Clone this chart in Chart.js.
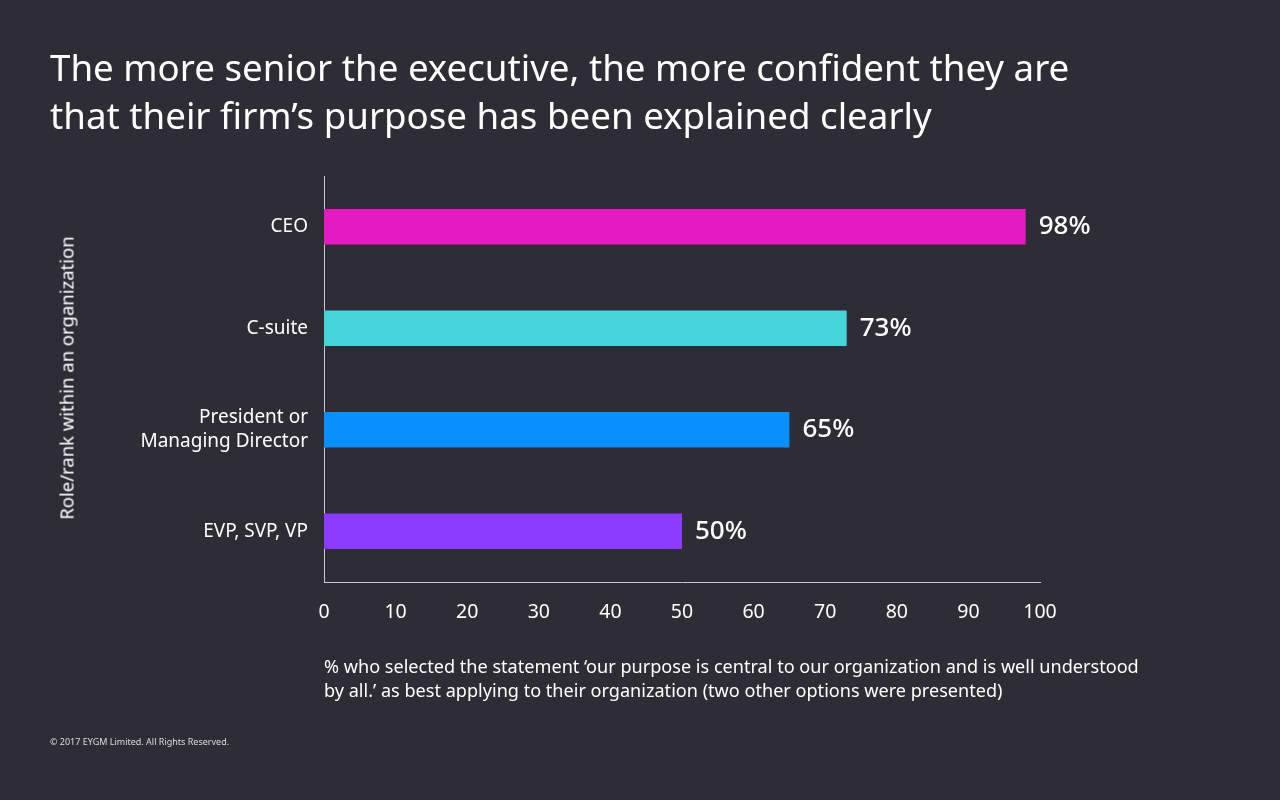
<!DOCTYPE html>
<html>
<head>
<meta charset="utf-8">
<script src="https://cdn.jsdelivr.net/npm/chart.js@4"></script>
<style>
  html, body { margin: 0; padding: 0; background: #2e2d36; }
  body { width: 1280px; height: 800px; position: relative; overflow: hidden; font-family: "Noto Sans", sans-serif; color: #fff; }
  #wrap { position: absolute; left: 0; top: 0; width: 1280px; height: 800px; }
  .title { position: absolute; left: 50px; top: 43px; font-size: 36.7px; line-height: 48px; font-weight: 400; }
  .ytitle { position: absolute; left: 66px; top: 378px; font-size: 18.5px; transform: translate(-50%, -50%) rotate(-90deg); white-space: nowrap; }
  .note { position: absolute; left: 324px; top: 654px; font-size: 18.1px; line-height: 24px; }
  .copy { position: absolute; left: 50px; top: 735px; font-size: 9px; color: #ddd; }
</style>
</head>
<body>
<div id="wrap"><canvas id="chart"></canvas></div>
<div class="title">The more senior the executive, the more confident they are<br>that their firm’s purpose has been explained clearly</div>
<div class="ytitle">Role/rank within an organization</div>
<div class="note">% who selected the statement ‘our purpose is central to our organization and is well understood<br>by all.’ as best applying to their organization (two other options were presented)</div>
<div class="copy">© 2017 EYGM Limited. All Rights Reserved.</div>
<script>
const ctx = document.getElementById('chart').getContext('2d');

// data
const roles = [['CEO'], ['C-suite'], ['President or', 'Managing Director'], ['EVP, SVP, VP']];
const shares = [98, 73, 65, 50];
const barColors = ['#e41bc0', '#45d4da', '#0a8ffe', '#8a3bff'];
const xTicks = [0, 10, 20, 30, 40, 50, 60, 70, 80, 90, 100];

// percent labels at the end of each bar
const valueLabels = {
    id: 'valueLabels',
    afterDatasetsDraw(chart) {
        const c = chart.ctx;
        const meta = chart.getDatasetMeta(0);
        c.save();
        c.fillStyle = '#ffffff';
        c.font = '500 26px "Noto Sans"';
        c.textBaseline = 'middle';
        meta.data.forEach((bar, i) => {
            c.fillText(shares[i] + '%', bar.x + 13, bar.y);
        });
        c.restore();
    }
};

const myChart = new Chart(ctx, {
    type: 'bar',
    data: {
        labels: roles,
        datasets: [{
            data: shares,
            backgroundColor: barColors,
            borderWidth: 0,
            barPercentage: 0.7,
            categoryPercentage: 0.5,
        }],
    },
    options: {
        indexAxis: 'y',
        responsive: true,
        maintainAspectRatio: false,
        animation: false,
        layout: { padding: { left: 50, top: 176, right: 240, bottom: 168 } },
        plugins: { legend: { display: false }, tooltip: { enabled: false } },
        scales: {
            x: {
                min: 0,
                max: 100,
                afterFit: (s) => { s.height = 50; },
                afterBuildTicks: (s) => { s.ticks = xTicks.map(v => ({ value: v })); },
                grid: { display: false, drawTicks: false },
                border: { display: true, color: '#c9c9cf', width: 1 },
                ticks: { color: '#ffffff', font: { family: 'Noto Sans', size: 19.5 }, padding: 19 },
            },
            y: {
                afterFit: (s) => { s.width = 274; },
                grid: { display: false, drawTicks: false },
                border: { display: true, color: '#c9c9cf', width: 1 },
                ticks: { color: '#ffffff', font: { family: 'Noto Sans', size: 19, lineHeight: 1.25 }, padding: 16 },
            },
        },
    },
    plugins: [valueLabels],
});
</script>
</body>
</html>
